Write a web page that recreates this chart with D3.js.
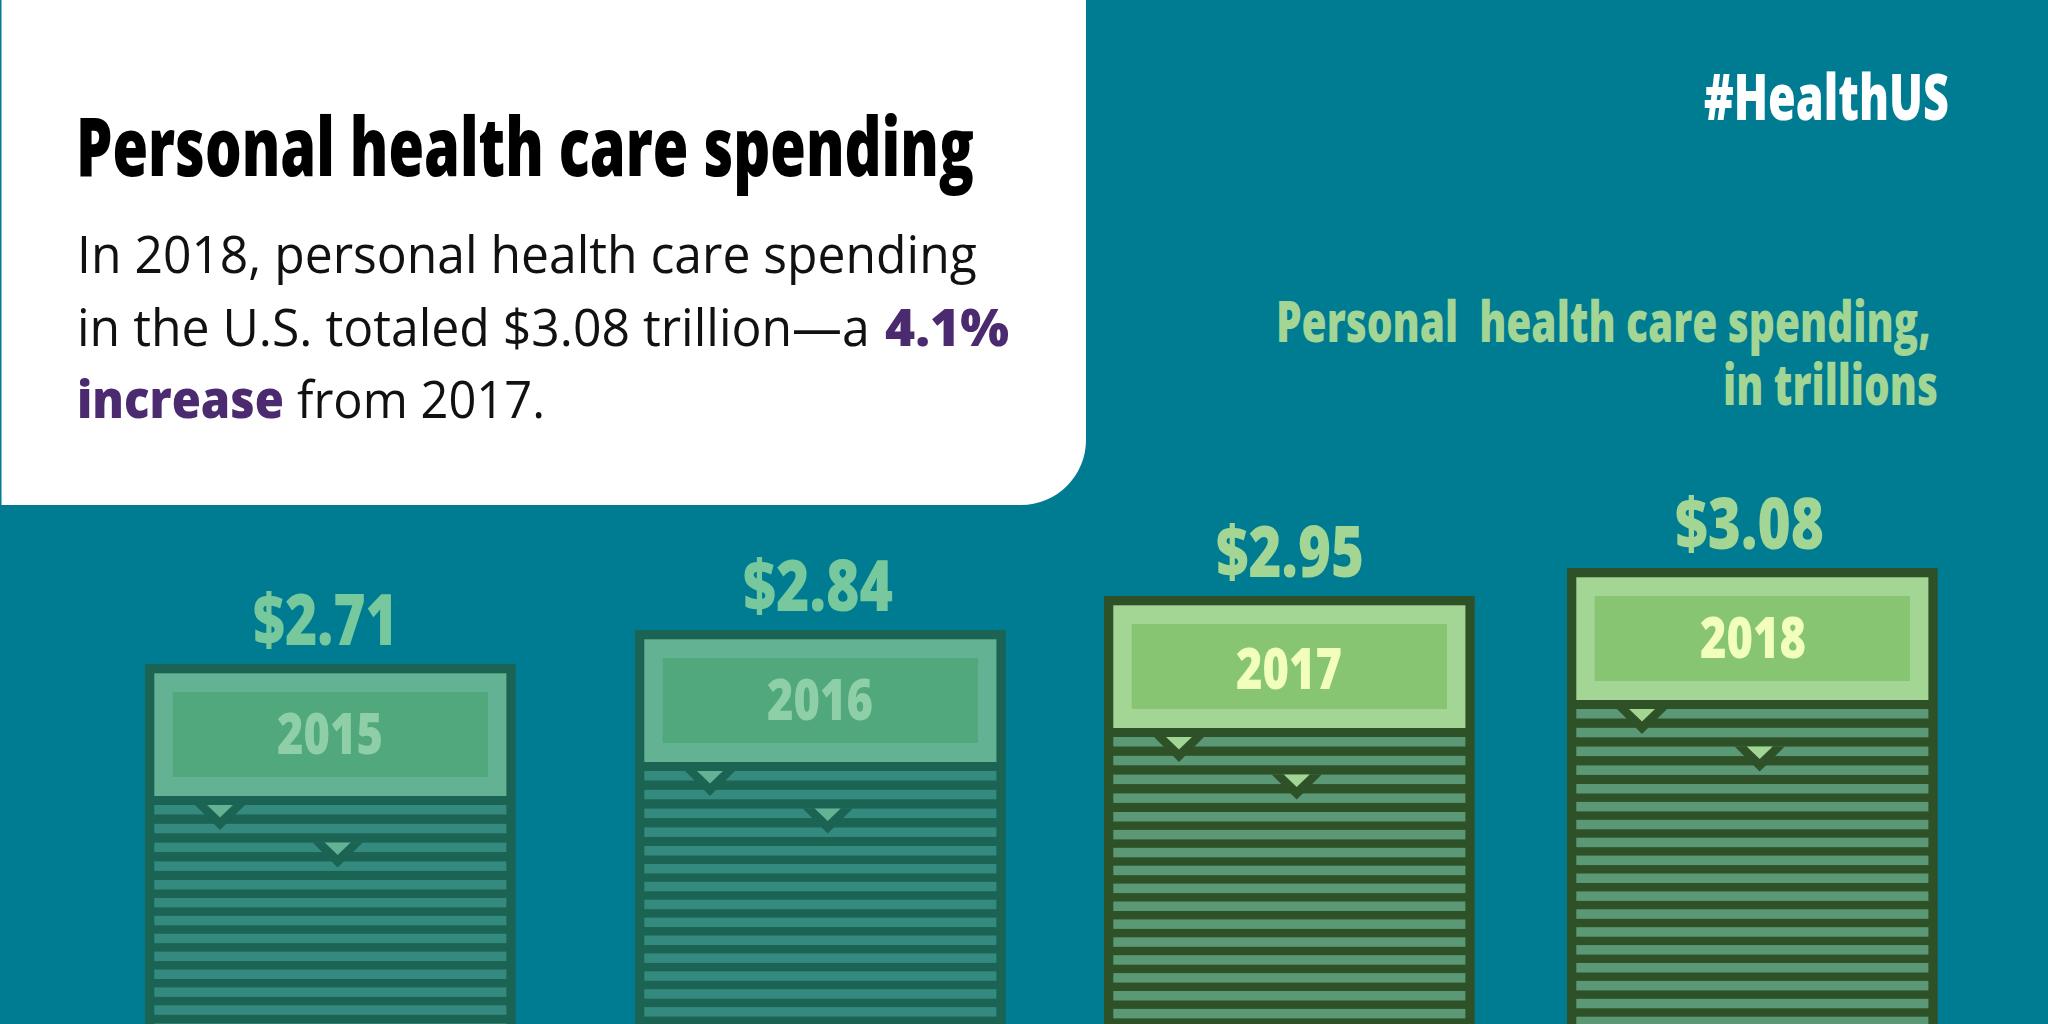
<!DOCTYPE html>
<html>
<head>
<meta charset="utf-8">
<script src="https://cdn.jsdelivr.net/npm/d3@7/dist/d3.min.js"></script>
<style>
	html, body { margin: 0; padding: 0; background: #007c92; overflow: hidden; }
	svg { display: block; }
	text { font-family: "Open Sans", sans-serif; white-space: pre; }
</style>
</head>
<body>
<div id="chart"></div>
<script>
const years = ['2015', '2016', '2017', '2018'];
const spending = [2.71, 2.84, 2.95, 3.08];
const valueLabels = ['$2.71', '$2.84', '$2.95', '$3.08'];
const title = 'Personal health care spending';
const hashtag = '#HealthUS';
const unitLines = ['Personal  health care spending,', 'in trillions'];

const w = 2048;
const h = 1024;

// the bars in the source graphic are not spaced or sized strictly to scale
const xScale = d3.scaleOrdinal().domain(years).range([145, 635, 1104, 1567]);
const yScale = d3.scaleLinear().domain(spending).range([664, 630, 596, 568]);
const barW = 370.7;

const yearDx = [132, 132, 132, 133];
const yearDy = [90, 90, 93, 90];
const valueDx = [108, 108, 112, 108];
const valueW = [145, 150, 148, 149];

const muted = { dark: '#1b6352', head: '#63b294', inner: '#52a87d', stripe: '#348a7f', year: '#8fcfa8', value: '#77c99d' };
const bright = { dark: '#2f5127', head: '#a3d594', inner: '#88c572', stripe: '#5b9976', year: '#f2ffbc', value: '#a3d594' };
const palette = [muted, muted, bright, bright];

const svg = d3.select('#chart').append('svg').attr('width', w).attr('height', h);

svg.append('rect').attr('width', w).attr('height', h).attr('fill', '#007c92');

// white panel, only the bottom right corner is round
svg.append('path')
	.attr('d', 'M1.5,0H1086V440A65,65 0 0 1 1021,505H1.5Z')
	.attr('fill', '#fff');

// squeeze a line sideways until it is len wide, no condensed font is installed
function fitted(parent, str, x, y, size, weight, fill, len) {
	const t = parent.append('text')
		.attr('font-size', size)
		.attr('font-weight', weight)
		.attr('fill', fill)
		.text(str);
	const k = len / t.node().getComputedTextLength();
	t.attr('transform', `translate(${x},${y}) scale(${k},1)`);
	return t;
}

fitted(svg, title, 76, 176, 81, 800, '#000', 898);
fitted(svg, 'In 2018, personal health care spending', 77, 273, 51, 400, '#111', 900);
fitted(svg, 'in the U.S. totaled $3.08 trillion\u2014a', 77, 346, 51, 400, '#111', 793);
fitted(svg, '4.1%', 885, 346, 51, 800, '#4b2a6f', 124);
fitted(svg, 'increase', 77, 418, 51, 800, '#4b2a6f', 207);
fitted(svg, 'from 2017.', 297, 418, 51, 400, '#111', 248);

fitted(svg, hashtag, 1704, 120, 63, 800, '#fff', 245);
fitted(svg, unitLines[0], 1276, 342, 56, 800, '#a3d594', 655);
fitted(svg, unitLines[1], 1723, 405, 56, 800, '#a3d594', 215);

const bars = svg.selectAll('g.bar')
	.data(years)
	.enter()
	.append('g')
	.attr('class', 'bar')
	.attr('transform', (d, i) => `translate(${xScale(d)},${yScale(spending[i])})`);

bars.append('rect')
	.attr('width', barW)
	.attr('height', (d, i) => h - yScale(spending[i]))
	.attr('fill', (d, i) => palette[i].dark);

bars.append('rect')
	.attr('x', 9.3)
	.attr('y', 9.3)
	.attr('width', barW - 18.6)
	.attr('height', 122.7)
	.attr('fill', (d, i) => palette[i].head);

bars.append('rect')
	.attr('x', 27.7)
	.attr('y', 28)
	.attr('width', barW - 55.4)
	.attr('height', 85)
	.attr('fill', (d, i) => palette[i].inner);

// horizontal stripes, the first four sit a little further apart
const stripeTops = d3.range(0, 18).map((i) => (i < 4 ? 141 + i * 18.8 : 216 + (i - 4) * 17.9));

bars.each(function (d, i) {
	const top = yScale(spending[i]);
	d3.select(this).selectAll('rect.stripe')
		.data(stripeTops.filter((s) => top + s < h))
		.enter()
		.append('rect')
		.attr('class', 'stripe')
		.attr('x', 9.3)
		.attr('y', (s) => s)
		.attr('width', barW - 18.6)
		.attr('height', 9.5)
		.attr('fill', palette[i].stripe);
});

const notches = [[75, 141], [192.7, 178.6]];

bars.each(function (d, i) {
	const g = d3.select(this);
	notches.forEach(([nx, ny]) => {
		g.append('path')
			.attr('d', `M${nx - 25},${ny}H${nx + 25}L${nx},${ny + 25}Z`)
			.attr('fill', palette[i].dark);
		g.append('path')
			.attr('d', `M${nx - 13},${ny}H${nx + 13}L${nx},${ny + 12.5}Z`)
			.attr('fill', palette[i].head);
	});
	fitted(g, years[i], yearDx[i], yearDy[i], 56, 800, palette[i].year, 106);
	fitted(g, valueLabels[i], valueDx[i], -19, 70, 800, palette[i].value, valueW[i]);
});
</script>
</body>
</html>
